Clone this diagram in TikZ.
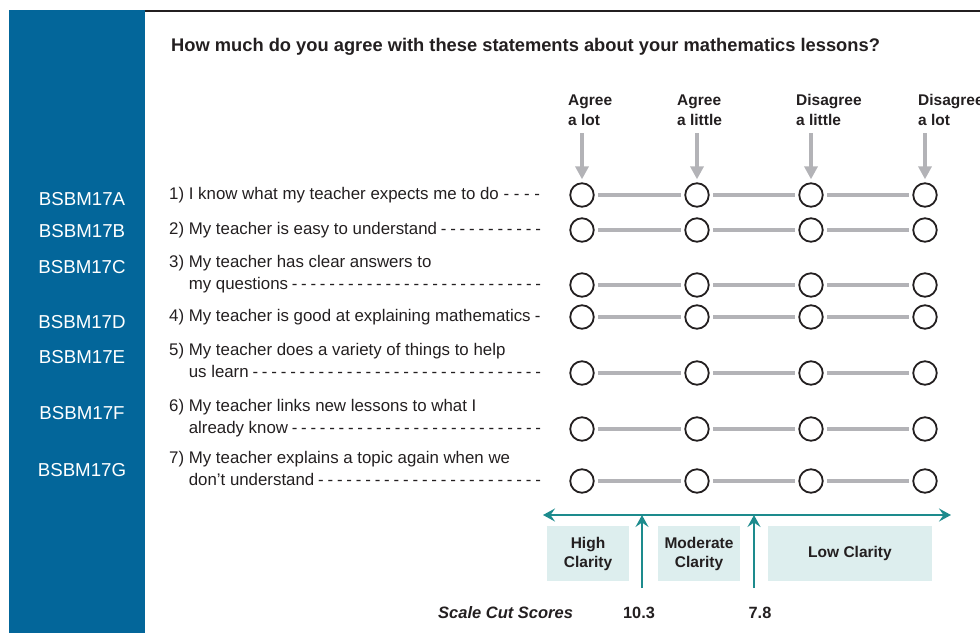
\documentclass[tikz,border=0pt]{standalone}
\usepackage{fontspec}
\setmainfont{Liberation Sans}
\usetikzlibrary{arrows.meta}
\definecolor{sidebar}{HTML}{03669A}
\definecolor{cutteal}{HTML}{1D8B8D}
\definecolor{bandfill}{HTML}{DDEEEE}
\definecolor{railgray}{HTML}{B3B3B7}
\definecolor{ink}{HTML}{231F20}
\newcommand{\leaderdash}{\xleaders\hbox{\hskip3.6pt-}\hfill}

\begin{document}
\begin{tikzpicture}[x=1pt, y=-1pt,
opt/.style = {draw=ink, circle, line width=1.8pt, minimum size=23.5pt, inner sep=0pt},
rail/.style = {railgray, line width=4pt, shorten <=3.5pt, shorten >=3.5pt},
hint/.style = {railgray, line width=3.5pt, -{Triangle[length=13pt, width=13pt]}, shorten >=3pt},
hdr/.style = {anchor=north west, inner sep=0pt, align=left, text=ink, font=\bfseries\fontsize{15.5}{20}\selectfont},
item/.style = {anchor=north west, inner sep=0pt, align=left, text=ink, font=\fontsize{16.85}{22.5}\selectfont},
codelbl/.style = {text=white, inner sep=0pt, font=\fontsize{18.7}{22}\selectfont},
band/.style = {fill=bandfill, inner sep=0pt, minimum height=55pt, align=center, text=ink, font=\bfseries\fontsize{15.5}{19}\selectfont},
cut/.style = {cutteal, line width=2.2pt, >={Stealth[length=12pt, width=13pt, inset=4.5pt]}},
score/.style = {anchor=base, inner sep=0pt, text=ink, font=\bfseries\fontsize{16.3}{20}\selectfont}
]
\useasboundingbox (0,0) rectangle (980,633);
\fill[sidebar] (9,10) rectangle (145,633);
\draw[ink, line width=2pt] (145,11) -- (980,11);
\node[anchor=base west, inner sep=0pt, text=ink, font=\bfseries\fontsize{18.3}{22}\selectfont] (title) at (171,51) {How much do you agree with these statements about your mathematics lessons?};

\foreach \n/\x/\cx/\t in {1/568/582/{Agree\\a lot}, 2/677/697/{Agree\\a little}, 3/796/811/{Disagree\\a little}, 4/918/925/{Disagree\\a lot}}{
  \node[hdr] (h\n) at (\x,94.5) {\t};
  \coordinate (a\n) at (\cx,133);
}
\foreach \r/\y in {1/195, 2/230, 3/285, 4/317, 5/373, 6/429, 7/481}{
  \foreach \c/\x in {1/582, 2/697, 3/811, 4/925}{\node[opt] (c\r\c) at (\x,\y) {};}
  \foreach \i/\j in {1/2, 2/3, 3/4}{\draw[rail] (c\r\i) -- (c\r\j);}
}
\foreach \c in {1,...,4}{\draw[hint] (a\c) -- (c1\c);}

\node[item] (q1) at (169,187.2) {\hbox to 372pt{1) I know what my teacher expects me to do\leaderdash}};
\node[item] (q2) at (169,222.2) {\hbox to 372pt{2) My teacher is easy to understand\leaderdash}};
\node[item] (q3) at (169,254.7) {3) My teacher has clear answers to\\\hbox to 372pt{\hskip19.6pt my questions\leaderdash}};
\node[item] (q4) at (169,309.2) {\hbox to 372pt{4) My teacher is good at explaining mathematics\leaderdash}};
\node[item] (q5) at (169,342.7) {5) My teacher does a variety of things to help\\\hbox to 372pt{\hskip19.6pt us learn\leaderdash}};
\node[item] (q6) at (169,398.7) {6) My teacher links new lessons to what I\\\hbox to 372pt{\hskip19.6pt already know\leaderdash}};
\node[item] (q7) at (169,450.7) {7) My teacher explains a topic again when we\\\hbox to 372pt{\hskip19.6pt don’t understand\leaderdash}};

\foreach \k/\y in {A/199, B/231, C/266.7, D/321.7, E/356.7, F/413, G/470}{\node[codelbl] (b\k) at (82,\y) {BSBM17\k};}

\coordinate (sL) at (543,515);
\coordinate (sR) at (951,515);
\draw[cut, <->] (sL) -- (sR);
\foreach \n/\x in {1/642, 2/754}{\coordinate (k\n) at (\x,588); \draw[cut, ->] (k\n) -- (k\n |- sL);}
\node[band, minimum width=82pt] (high) at (588,553.5) {High\\Clarity};
\node[band, minimum width=82pt] (moderate) at (699,553.5) {Moderate\\Clarity};
\node[band, minimum width=164pt] (low) at (850,553.5) {Low Clarity};

\node[anchor=base west, inner sep=0pt, text=ink, font=\bfseries\itshape\fontsize{16.5}{20}\selectfont] (scl) at (438,618) {Scale Cut Scores};
\node[score] (s1) at (639,618) {10.3};
\node[score] (s2) at (760,618) {7.8};
\end{tikzpicture}
\end{document}
